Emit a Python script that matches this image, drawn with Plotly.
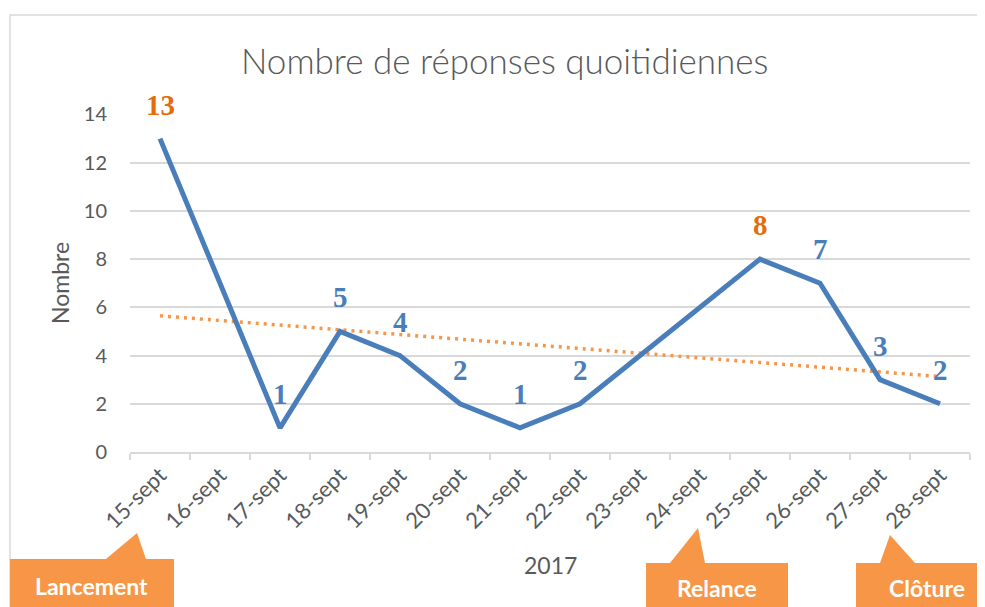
import numpy as np
import plotly.graph_objects as go

categories = ["15-sept", "16-sept", "17-sept", "18-sept", "19-sept", "20-sept", "21-sept",
              "22-sept", "23-sept", "24-sept", "25-sept", "26-sept", "27-sept", "28-sept"]
responses = [13, None, 1, 5, 4, 2, 1, 2, None, None, 8, 7, 3, 2]
highlight = [True, False, False, False, False, False, False, False, False, False, True, False, False, False]
y_ticks = [0, 2, 4, 6, 8, 10, 12, 14]

title_text = "Nombre de réponses quoitidiennes"
callouts = ["Lancement", "Relance", "Clôture"]

BLUE = "#4A7EBB"
ORANGE_LABEL = "#E46C0A"
ORANGE = "#F79646"
GRID = "#D9D9D9"
TXT = "#595959"

OFF = 8  # page body margin
W, H = 985 - OFF, 607 - OFF
L, R, T, B = 130, 970, 114, 452  # reference pixel geometry of the plot area


def px(x):
    return (x - L) / (R - L)


def py(y):
    return (B - y) / (B - T)


# linear trend over the available points (Excel-style, x = 1..n)
xs = np.array([i + 1 for i, v in enumerate(responses) if v is not None], dtype=float)
ys = np.array([v for v in responses if v is not None], dtype=float)
slope, intercept = np.polyfit(xs, ys, 1)
trend = [slope * (i + 1) + intercept for i in range(len(categories))]

fig = go.Figure()
fig.add_trace(go.Scatter(x=categories, y=trend, mode="lines",
                         line=dict(color=ORANGE, width=3.5, dash="3px,5px"),
                         hoverinfo="skip", showlegend=False))
fig.add_trace(go.Scatter(x=categories, y=responses, mode="lines", connectgaps=True,
                         line=dict(color=BLUE, width=5), showlegend=False))

annotations = []
for c, v, h in zip(categories, responses, highlight):
    if v is None:
        continue
    annotations.append(dict(x=c, y=v, xref="x", yref="y", text=str(v), showarrow=False,
                            yshift=34,
                            font=dict(family="Liberation Serif", size=29, weight="bold",
                                      color=ORANGE_LABEL if h else BLUE)))

# title
annotations.append(dict(x=px(504), y=py(60), xref="paper", yref="paper", text=title_text,
                        showarrow=False, xanchor="center", yanchor="middle",
                        font=dict(family="Lato", size=35, color=TXT, weight=300)))
# axis titles
annotations.append(dict(x=px(60), y=py(283), xref="paper", yref="paper", text="Nombre",
                        textangle=-90, showarrow=False, xanchor="center", yanchor="middle",
                        font=dict(family="Lato", size=23, color=TXT)))
annotations.append(dict(x=px(550), y=py(565), xref="paper", yref="paper", text="2017",
                        showarrow=False, xanchor="center", yanchor="middle",
                        font=dict(family="Lato", size=23, color=TXT)))

shapes = [dict(type="rect", xref="paper", yref="paper", x0=px(10), x1=px(1100), y0=py(15), y1=py(700),
               line=dict(color=GRID, width=1.5), fillcolor="rgba(0,0,0,0)", layer="below")]

# callout boxes (pixel geometry in reference coordinates)
callout_geom = {
    "Lancement": dict(box=(10, 174, 559), tip=(137, 533), base=(106, 146), text=(91, 586)),
    "Relance": dict(box=(646, 788, 563), tip=(698, 528), base=(670, 705), text=(717, 588)),
    "Clôture": dict(box=(856, 1100, 563), tip=(890, 535), base=(880, 915), text=(927, 588)),
}
for name in callouts:
    g = callout_geom[name]
    x0, x1, top = g["box"]
    tx, ty = g["tip"]
    b0, b1 = g["base"]
    path = (f"M {px(x0)} {py(top)} L {px(b0)} {py(top)} L {px(tx)} {py(ty)} L {px(b1)} {py(top)} "
            f"L {px(x1)} {py(top)} L {px(x1)} {py(700)} L {px(x0)} {py(700)} Z")
    shapes.append(dict(type="path", xref="paper", yref="paper", path=path,
                       fillcolor=ORANGE, line=dict(width=0), layer="above"))
    annotations.append(dict(x=px(g["text"][0]), y=py(g["text"][1]), xref="paper", yref="paper",
                            text=name, showarrow=False, xanchor="center", yanchor="middle",
                            font=dict(family="Lato", size=23, weight="bold", color="white")))

fig.update_layout(
    width=W, height=H,
    margin=dict(l=L - OFF, r=W - (R - OFF), t=T - OFF, b=H - (B - OFF), pad=0),
    paper_bgcolor="white", plot_bgcolor="white",
    shapes=shapes, annotations=annotations,
    xaxis=dict(type="category", range=[-0.5, len(categories) - 0.5], tickson="boundaries",
               ticks="outside", ticklen=6, tickcolor=GRID, tickwidth=1.5,
               showline=True, linecolor=GRID, linewidth=1.5, showgrid=False,
               tickangle=-45, tickfont=dict(family="Lato", size=22, color=TXT), fixedrange=True),
    yaxis=dict(range=[0, 14.02], tickvals=y_ticks, ticktext=[str(t) for t in y_ticks],
               showgrid=True, gridcolor=GRID, gridwidth=1.5, zeroline=False,
               showline=False, ticks="outside", ticklen=18, tickcolor="rgba(0,0,0,0)",
               tickfont=dict(family="Lato", size=20, color=TXT), fixedrange=True),
    showlegend=False,
)

fig.write_html("out.html")
